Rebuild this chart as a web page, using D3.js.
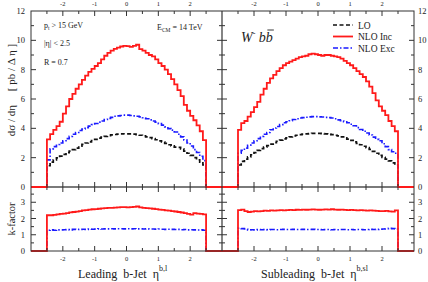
<!DOCTYPE html>
<html>
<head>
<meta charset="utf-8">
<style>
  body { margin:0; background:#fff; }
  svg text { font-family: "Liberation Serif", "DejaVu Serif", serif; fill:#222; }
</style>
</head>
<body>
<script src="https://d3js.org/d3.v7.min.js"></script>
<script>

// ---- data : 50 bins of width 0.1 between eta = -2.5 and 2.5 ----
var binLow = d3.range(50).map(function(i){ return -2.5 + i * 0.1; });

// leading b-jet
var leadLO = [1.45,1.7,1.85,1.98,2.1,2.22,2.35,2.45,2.55,2.65,2.78,2.9,3.0,3.08,3.17,3.25,3.33,3.4,3.45,3.5,
              3.55,3.58,3.6,3.62,3.63,3.62,3.62,3.6,3.57,3.53,3.48,3.42,3.37,3.3,3.22,3.15,3.07,2.97,2.88,2.8,
              2.72,2.7,2.6,2.45,2.3,2.15,2.0,1.85,1.7,1.5];
var leadInc = [3.25,3.6,3.9,4.15,4.45,5.0,5.5,6.0,6.35,6.7,7.0,7.3,7.6,7.85,8.05,8.25,8.45,8.7,8.95,9.15,
               9.3,9.42,9.5,9.58,9.62,9.6,9.55,9.62,9.7,9.4,9.3,9.15,9.0,8.9,8.7,8.45,8.25,8.0,7.7,7.35,
               7.0,6.6,6.2,5.6,5.2,4.85,4.55,4.2,3.8,3.2];
var leadExc = [1.85,2.6,2.75,2.9,3.0,3.15,3.3,3.45,3.6,3.72,3.85,3.95,4.05,4.15,4.25,4.33,4.42,4.5,4.6,4.68,
               4.75,4.82,4.85,4.88,4.9,4.9,4.88,4.85,4.82,4.78,4.72,4.65,4.58,4.5,4.42,4.32,4.22,4.1,3.98,3.88,
               3.75,3.6,3.42,3.2,3.0,2.8,2.55,2.35,2.1,1.8];
var leadKInc = [2.2,2.2,2.22,2.25,2.28,2.3,2.33,2.38,2.4,2.42,2.45,2.5,2.52,2.55,2.57,2.58,2.6,2.62,2.64,2.65,
                2.66,2.67,2.68,2.7,2.7,2.69,2.7,2.72,2.74,2.68,2.66,2.64,2.62,2.6,2.58,2.55,2.53,2.5,2.48,2.45,
                2.43,2.4,2.37,2.33,2.28,2.24,2.33,2.3,2.28,2.26];
var leadKExc = [1.28,1.3,1.28,1.3,1.3,1.31,1.32,1.3,1.33,1.32,1.33,1.34,1.33,1.35,1.34,1.35,1.36,1.35,1.36,1.36,
                1.37,1.36,1.37,1.37,1.36,1.37,1.36,1.37,1.36,1.36,1.35,1.36,1.35,1.35,1.34,1.35,1.34,1.33,1.34,1.33,
                1.32,1.33,1.31,1.32,1.3,1.31,1.3,1.29,1.3,1.28];

// subleading b-jet
var subLO = [1.5,1.75,1.9,2.05,2.2,2.35,2.5,2.62,2.72,2.82,2.92,3.02,3.12,3.2,3.28,3.35,3.42,3.48,3.53,3.57,
             3.6,3.62,3.64,3.65,3.65,3.65,3.64,3.62,3.6,3.57,3.53,3.48,3.42,3.35,3.27,3.18,3.08,2.98,2.88,2.78,
             2.68,2.56,2.43,2.3,2.15,2.02,1.9,1.78,1.65,1.5];
var subInc = [3.9,4.35,4.5,4.8,5.1,5.45,5.8,6.3,6.7,7.1,7.4,7.65,7.9,8.1,8.3,8.45,8.55,8.65,8.75,8.85,
              8.9,8.95,9.05,9.1,9.05,9.0,8.95,9.0,9.0,8.95,8.9,8.85,8.75,8.6,8.45,8.3,8.1,7.9,7.7,7.5,
              7.2,6.85,6.4,5.9,5.5,5.2,4.9,4.5,4.15,3.8];
var subExc = [2.3,2.5,2.65,2.85,3.0,3.15,3.3,3.45,3.6,3.72,3.9,4.02,4.12,4.25,4.38,4.45,4.52,4.6,4.65,4.7,
              4.73,4.76,4.78,4.8,4.8,4.78,4.77,4.75,4.73,4.7,4.65,4.58,4.52,4.45,4.38,4.28,4.18,4.05,3.92,3.8,
              3.68,3.55,3.4,3.25,3.15,2.95,2.75,2.55,2.4,2.3];
var subKInc = [2.52,2.55,2.45,2.4,2.42,2.45,2.44,2.46,2.48,2.47,2.5,2.49,2.5,2.51,2.5,2.52,2.53,2.52,2.54,2.53,
               2.55,2.54,2.55,2.56,2.55,2.54,2.55,2.56,2.55,2.57,2.55,2.54,2.55,2.53,2.52,2.53,2.51,2.5,2.52,2.5,
               2.49,2.5,2.48,2.47,2.46,2.45,2.47,2.44,2.42,2.5];
var subKExc = [1.4,1.38,1.35,1.3,1.31,1.3,1.32,1.31,1.32,1.31,1.32,1.32,1.31,1.32,1.33,1.32,1.32,1.33,1.32,1.32,
               1.33,1.32,1.32,1.33,1.32,1.32,1.31,1.32,1.32,1.31,1.32,1.31,1.32,1.32,1.31,1.32,1.31,1.32,1.32,1.31,
               1.32,1.33,1.32,1.33,1.34,1.35,1.37,1.4,1.38,1.35];

var xTicksMajor = [-2, -1, 0, 1, 2];
var yTopMajor = [0, 2, 4, 6, 8, 10, 12];
var yBotMajor = [0, 1, 2, 3];
var seriesNames = ["LO", "NLO Inc", "NLO Exc"];

// ---- layout ----
var W = 428, H = 282;
var top0 = 11, mid = 187, bot = 251;
var panels = [
  { x0: 31,  x1: 222, lo: leadLO, inc: leadInc, exc: leadExc, kInc: leadKInc, kExc: leadKExc, side: "left" },
  { x0: 222, x1: 414, lo: subLO,  inc: subInc,  exc: subExc,  kInc: subKInc,  kExc: subKExc,  side: "right" }
];
var styles = {
  LO:  { color: "#111", dash: "4,2.5", w: 1.7 },
  inc: { color: "#ff1a1a", dash: null, w: 1.8 },
  exc: { color: "#1a1aff", dash: "5,2,1.5,2", w: 1.6 }
};

var svg = d3.select("body").append("svg").attr("width", W).attr("height", H);

var yTop = d3.scaleLinear().domain([0, 12]).range([mid, top0]);
var yBot = d3.scaleLinear().domain([0, 4]).range([bot, 186]);

function stepPts(vals) {
  var pts = [[-3, 0]];
  vals.forEach(function(v, i){ pts.push([binLow[i], v]); });
  pts.push([2.5, 0]);
  pts.push([3, 0]);
  return pts;
}

// zero line of the upper panels (gray)
svg.append("line").attr("x1", 31).attr("x2", 414).attr("y1", mid).attr("y2", mid)
  .attr("stroke", "#7a7a7a").attr("stroke-width", 2);

panels.forEach(function(p) {
  var x = d3.scaleLinear().domain([-3, 3]).range([p.x0, p.x1]);
  var lineTop = d3.line().curve(d3.curveStepAfter)
      .x(function(d){ return x(d[0]); }).y(function(d){ return yTop(d[1]); });
  var lineBot = d3.line().curve(d3.curveStepAfter)
      .x(function(d){ return x(d[0]); }).y(function(d){ return yBot(d[1]); });

  [["LO", p.lo], ["exc", p.exc], ["inc", p.inc]].forEach(function(s) {
    var st = styles[s[0]];
    svg.append("path").datum(stepPts(s[1])).attr("d", lineTop)
      .attr("fill", "none").attr("stroke", st.color).attr("stroke-width", st.w)
      .attr("stroke-dasharray", st.dash);
  });
  [["exc", p.kExc], ["inc", p.kInc]].forEach(function(s) {
    var st = styles[s[0]];
    svg.append("path").datum(stepPts(s[1])).attr("d", lineBot)
      .attr("fill", "none").attr("stroke", st.color).attr("stroke-width", st.w)
      .attr("stroke-dasharray", st.dash);
  });

  // x ticks: top frame, zero line, bottom frame
  var halfTicks = d3.range(-2.5, 2.51, 0.5);
  halfTicks.forEach(function(t) {
    var major = Math.abs(t - Math.round(t)) < 1e-6;
    var L = major ? 5 : 3;
    svg.append("line").attr("x1", x(t)).attr("x2", x(t)).attr("y1", top0).attr("y2", top0 + L)
      .attr("stroke", "#333").attr("stroke-width", 1);
    svg.append("line").attr("x1", x(t)).attr("x2", x(t)).attr("y1", mid - L).attr("y2", mid + L)
      .attr("stroke", "#333").attr("stroke-width", 1);
    svg.append("line").attr("x1", x(t)).attr("x2", x(t)).attr("y1", bot).attr("y2", bot - L)
      .attr("stroke", "#333").attr("stroke-width", 1);
  });
  xTicksMajor.forEach(function(t) {
    svg.append("text").attr("x", x(t)).attr("y", 6).attr("text-anchor", "middle")
      .attr("font-size", 6.5).text(t);
    svg.append("text").attr("x", x(t)).attr("y", 261).attr("text-anchor", "middle")
      .attr("font-size", 6.5).text(t);
  });
});

// frame
svg.append("rect").attr("x", 31).attr("y", top0).attr("width", 414 - 31).attr("height", bot - top0)
  .attr("fill", "none").attr("stroke", "#333").attr("stroke-width", 1);
svg.append("line").attr("x1", 222).attr("x2", 222).attr("y1", top0).attr("y2", bot)
  .attr("stroke", "#333").attr("stroke-width", 1.2);

// y ticks
function yTicks(scale, vals, majorStep) {
  vals.forEach(function(v) {
    var major = Math.abs(v / majorStep - Math.round(v / majorStep)) < 1e-6;
    var L = major ? 5 : 3;
    var yy = scale(v);
    svg.append("line").attr("x1", 31).attr("x2", 31 + L).attr("y1", yy).attr("y2", yy).attr("stroke", "#333");
    svg.append("line").attr("x1", 222 - L).attr("x2", 222 + L).attr("y1", yy).attr("y2", yy).attr("stroke", "#333");
    svg.append("line").attr("x1", 414 - L).attr("x2", 414).attr("y1", yy).attr("y2", yy).attr("stroke", "#333");
  });
}
yTicks(yTop, d3.range(1, 12, 1), 2);
yTicks(yBot, d3.range(0.5, 4, 0.5), 1);

yTopMajor.forEach(function(v) {
  svg.append("text").attr("x", 25).attr("y", yTop(v) + 3).attr("text-anchor", "end")
    .attr("font-size", 8.5).text(v);
  svg.append("text").attr("x", 418).attr("y", yTop(v) + 3).attr("text-anchor", "start")
    .attr("font-size", 8.5).text(v);
});
yBotMajor.forEach(function(v) {
  svg.append("text").attr("x", 25).attr("y", yBot(v) + 3).attr("text-anchor", "end")
    .attr("font-size", 8.5).text(v);
  svg.append("text").attr("x", 418).attr("y", yBot(v) + 3).attr("text-anchor", "start")
    .attr("font-size", 8.5).text(v);
});

// axis titles
svg.append("text").attr("transform", "translate(15,90) rotate(-90)").attr("text-anchor", "middle")
  .attr("font-size", 11).attr("xml:space", "preserve").text("d\u03c3 / d\u03b7     [ pb / \u0394 \u03b7 ]");
svg.append("text").attr("transform", "translate(15,219) rotate(-90)").attr("text-anchor", "middle")
  .attr("font-size", 10.5).text("k-factor");

var xt1 = svg.append("text").attr("x", 78).attr("y", 278).attr("font-size", 12).attr("xml:space", "preserve");
xt1.append("tspan").text("Leading  b-Jet  \u03b7");
xt1.append("tspan").attr("dy", -7).attr("font-size", 8).text("b,l");
var xt2 = svg.append("text").attr("x", 261).attr("y", 278).attr("font-size", 12).attr("xml:space", "preserve");
xt2.append("tspan").text("Subleading  b-Jet  \u03b7");
xt2.append("tspan").attr("dy", -7).attr("font-size", 8).text("b,sl");

// annotations, left panel
var pt = svg.append("text").attr("x", 44).attr("y", 28).attr("font-size", 8);
pt.append("tspan").text("p");
pt.append("tspan").attr("dy", 2).attr("font-size", 5.5).text("t");
pt.append("tspan").attr("dy", -2).text(" > 15 GeV");
svg.append("text").attr("x", 44).attr("y", 46).attr("font-size", 8).text("|\u03b7| < 2.5");
svg.append("text").attr("x", 44).attr("y", 65).attr("font-size", 8).text("R = 0.7");
var ecm = svg.append("text").attr("x", 157).attr("y", 30).attr("font-size", 8);
ecm.append("tspan").text("E");
ecm.append("tspan").attr("dy", 2).attr("font-size", 5.5).text("CM");
ecm.append("tspan").attr("dy", -2).text(" = 14 TeV");

// process label, right panel
var proc = svg.append("text").attr("x", 241).attr("y", 42).attr("font-size", 14).attr("font-style", "italic");
proc.append("tspan").text("W");
proc.append("tspan").attr("dy", -6).attr("font-size", 8).text("-");
proc.append("tspan").attr("dy", 6).text(" b");
var bbar = proc.append("tspan").text("b");
var bb = bbar.node().getExtentOfChar ? null : null;
var pnode = proc.node();
var n = pnode.getNumberOfChars();
var ext = pnode.getExtentOfChar(n - 1);
svg.append("line").attr("x1", ext.x + 1.5).attr("x2", ext.x + ext.width + 1)
  .attr("y1", 30).attr("y2", 30).attr("stroke", "#222").attr("stroke-width", 0.9);

// legend
var legend = [["LO", styles.LO], ["NLO Inc", styles.inc], ["NLO Exc", styles.exc]];
legend.forEach(function(l, i) {
  var yy = 25 + i * 11.5;
  svg.append("line").attr("x1", 333).attr("x2", 353).attr("y1", yy).attr("y2", yy)
    .attr("stroke", l[1].color).attr("stroke-width", l[1].w).attr("stroke-dasharray", l[1].dash);
  svg.append("text").attr("x", 358).attr("y", yy + 3.5).attr("font-size", 9.5).text(seriesNames[i]);
});

</script>
</body>
</html>
